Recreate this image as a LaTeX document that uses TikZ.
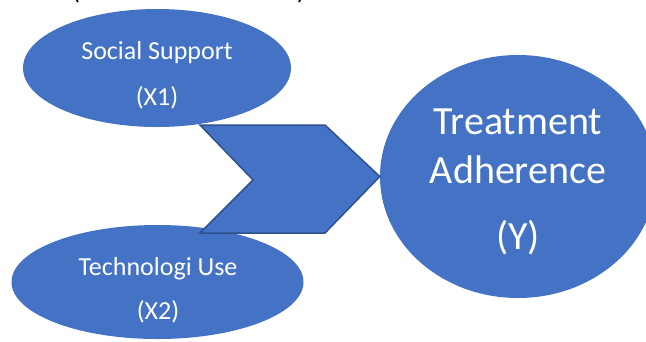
\documentclass[tikz,border=0pt]{standalone}
\usepackage{fontspec}
\setmainfont{Carlito}
\usetikzlibrary{shapes.geometric}
\definecolor{officeblue}{HTML}{4472C4}
\definecolor{officeedge}{HTML}{2F528F}
\tikzset{
    bubble/.style={ellipse, fill=officeblue, inner sep=0pt},
    bubbletext/.style={text=white, align=center, inner sep=0pt},
    cuttext/.style={text=black, anchor=base, font=\fontsize{26}{30}\selectfont}
}
\begin{document}
\begin{tikzpicture}[x=1pt, y=-1pt]
    \useasboundingbox (0,0) rectangle (646,341);

    % --- cut-off heading ---
    \node[cuttext] (hl) at (76,-1) {(};
    \node[cuttext] (hr) at (301,-1) {)};

    % --- X1 ---
    \node[bubble, minimum width=268pt, minimum height=118pt] (ss) at (157,68) {};
    \node[bubbletext, font=\fontsize{26}{31}\selectfont] (sst) at (157,75) {Social Support\\[15pt](X1)};

    % --- X2 ---
    \node[bubble, minimum width=292pt, minimum height=114pt] (tu) at (157.5,282) {};
    \node[bubbletext, font=\fontsize{26}{31}\selectfont] (tut) at (158,290) {Technologi Use\\[13pt](X2)};

    % --- Y ---
    \node[bubble, minimum width=276pt, minimum height=243pt] (ta) at (518,176.5) {};
    \node[bubbletext, font=\fontsize{40}{48}\selectfont] (tat) at (518,182) {Treatment\\[1pt]Adherence\\[18pt](Y)};

    % --- chevron ---
    \coordinate (c1) at (200,125);
    \coordinate (c2) at (325,125);
    \coordinate (c3) at (325,233);
    \coordinate (c4) at (200,233);
    \coordinate (cn) at (253,180);
    \draw[fill=officeblue, draw=officeedge, line width=1.5pt, line join=miter]
        (c1) -- (c2) -- (ta.west) -- (c3) -- (c4) -- (cn) -- cycle;
\end{tikzpicture}
\end{document}
